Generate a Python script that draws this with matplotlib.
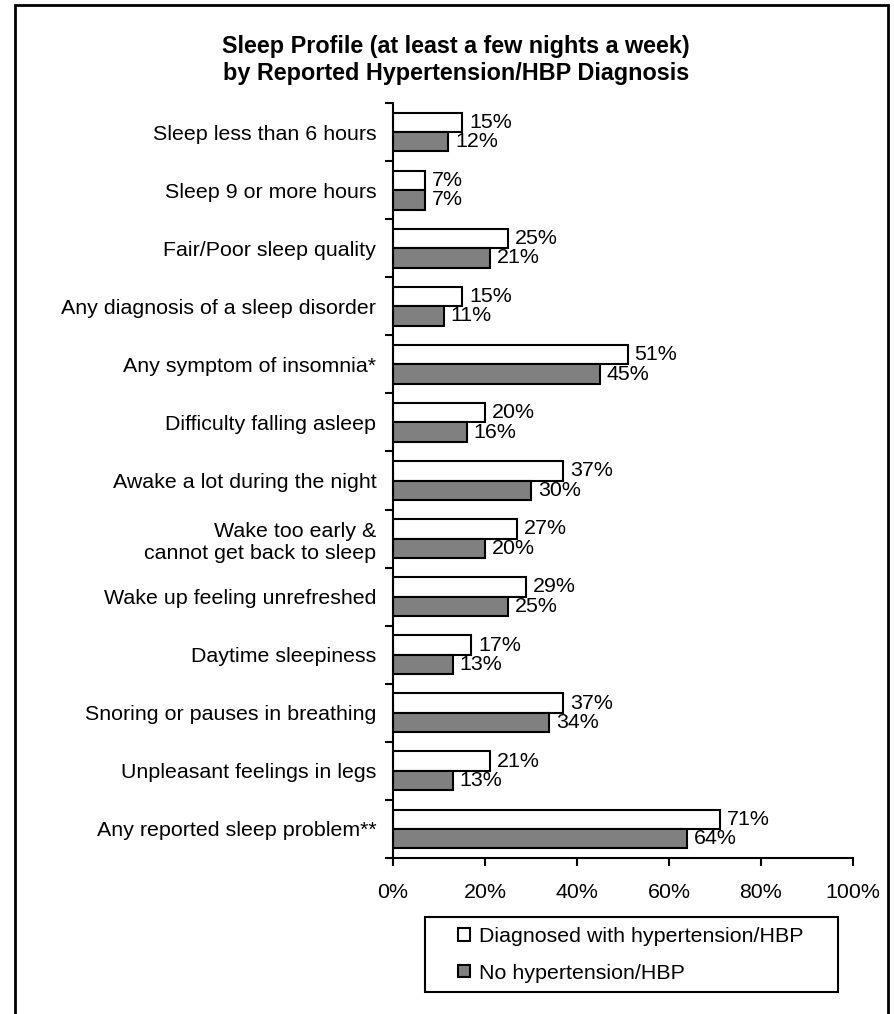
import matplotlib
matplotlib.use("Agg")
import matplotlib.pyplot as plt
from matplotlib.patches import Rectangle
import numpy as np

# chart data
categories = [
    "Sleep less than 6 hours",
    "Sleep 9 or more hours",
    "Fair/Poor sleep quality",
    "Any diagnosis of a sleep disorder",
    "Any symptom of insomnia*",
    "Difficulty falling asleep",
    "Awake a lot during the night",
    "Wake too early &\ncannot get back to sleep",
    "Wake up feeling unrefreshed",
    "Daytime sleepiness",
    "Snoring or pauses in breathing",
    "Unpleasant feelings in legs",
    "Any reported sleep problem**",
]
hbp = [15, 7, 25, 15, 51, 20, 37, 27, 29, 17, 37, 21, 71]
no_hbp = [12, 7, 21, 11, 45, 16, 30, 20, 25, 13, 34, 13, 64]
series_names = ["Diagnosed with hypertension/HBP", "No hypertension/HBP"]
x_ticks = [0, 20, 40, 60, 80, 100]

plt.rcParams['font.family'] = ['Liberation Sans', 'DejaVu Sans']
FS = 15.4

W, H = 894, 1014
fig = plt.figure(figsize=(W / 100, H / 100), dpi=100)
ax = fig.add_axes([393 / W, 1 - 858 / H, 460 / W, 755 / H])

y = np.arange(len(categories))
bh = 0.335
b1 = ax.barh(y - bh / 2, hbp, height=bh, color="white", edgecolor="black",
             linewidth=1.5, label=series_names[0])
b2 = ax.barh(y + bh / 2, no_hbp, height=bh, color="#808080", edgecolor="black",
             linewidth=1.5, label=series_names[1])
ax.bar_label(b1, labels=[f"{v}%" for v in hbp], padding=5, fontsize=FS)
ax.bar_label(b2, labels=[f"{v}%" for v in no_hbp], padding=5, fontsize=FS)

ax.set_xlim(0, 100)
ax.set_ylim(len(categories) - 0.5, -0.5)
ax.set_xticks(x_ticks)
ax.set_xticklabels([f"{t}%" for t in x_ticks], fontsize=FS)

# ticks at category boundaries, labels at the centres
ax.set_yticks(np.arange(len(categories) + 1) - 0.5)
ax.set_yticklabels([])
ax.set_yticks(y, labels=categories, minor=True, fontsize=FS)
ax.tick_params(axis="y", which="minor", length=0, pad=12)
ax.tick_params(axis="y", which="major", length=6, width=1.5, direction="out")
ax.tick_params(axis="x", length=6, width=1.5, direction="out", pad=12)

for s in ["top", "right"]:
    ax.spines[s].set_visible(False)
for s in ["left", "bottom"]:
    ax.spines[s].set_linewidth(1.5)

fig.text(456 / W, 1 - 60 / H, "Sleep Profile (at least a few nights a week)\nby Reported Hypertension/HBP Diagnosis",
         ha="center", va="center", fontsize=16.8, fontweight="bold", linespacing=1.2)

# legend with its own box
fig.add_artist(Rectangle((425 / W, 1 - 992 / H), 413 / W, 75 / H, transform=fig.transFigure,
                         fill=False, edgecolor="black", linewidth=1.5))
fig.legend(handles=[b1, b2], labels=series_names, loc="center",
           bbox_to_anchor=(631 / W, 1 - 955 / H), frameon=False, fontsize=FS,
           handlelength=0.55, handleheight=0.55, handletextpad=0.45, labelspacing=0.8)

# outer frame, open at the bottom
fig.add_artist(Rectangle((15 / W, -0.05), 873 / W, 1.05 - 5 / H, transform=fig.transFigure,
                         fill=False, edgecolor="black", linewidth=2))

fig.savefig("out.png", dpi=100)
